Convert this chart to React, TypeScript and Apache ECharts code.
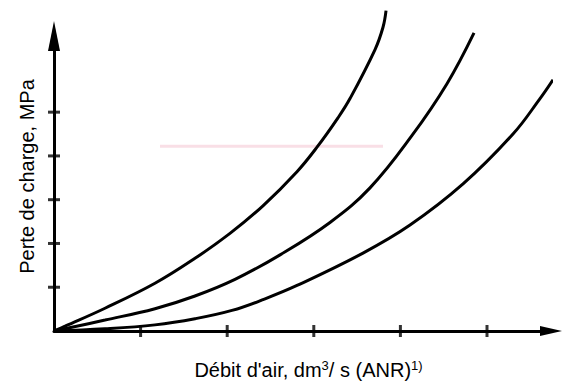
import React, { useEffect, useRef } from "react";
import * as echarts from "echarts";

// Axis tick positions (in tick units)
const xTickValues = [1, 2, 3, 4, 5];
const yTickValues = [1, 2, 3, 4, 5];

// Three pressure-drop curves: [airflow, pressure drop]
const curveA = [
  [0, 0], [0.127, 0.11], [0.589, 0.52], [1.166, 1.09], [1.628, 1.66], [2.032, 2.23],
  [2.413, 2.86], [2.806, 3.64], [3.037, 4.2], [3.279, 4.87], [3.418, 5.31],
  [3.707, 6.43], [3.799, 6.94], [3.834, 7.32],
];
const curveB = [
  [0, 0], [0.589, 0.25], [1.166, 0.51], [1.628, 0.8], [2.09, 1.18], [2.61, 1.74],
  [3.187, 2.48], [3.649, 3.27], [4.128, 4.45], [4.538, 5.65], [4.85, 6.81],
];
const curveC = [
  [0, 0], [0.589, 0.05], [1.166, 0.14], [1.628, 0.28], [2.055, 0.47], [2.43, 0.73],
  [2.806, 1.04], [3.568, 1.78], [4.111, 2.42], [4.723, 3.36], [5.3, 4.5], [5.612, 5.31],
  [5.762, 5.74],
];
// faint pink reference line
const pinkLine = [[1.224, 4.22], [3.799, 4.22]];

const xName = "{t|Débit d'air, dm}{s|3}{t|/ s (ANR)}{s|1)}";
const yName = "Perte de charge, MPa";

const FONT = "Liberation Sans";

export default function App() {
  const ref = useRef<HTMLDivElement>(null);
  useEffect(() => {
    if (!ref.current) return;
    const chart = echarts.init(ref.current, undefined, { renderer: "svg" });
    const curveSeries = (data: number[][]) => ({
      type: "line",
      data,
      smooth: 0.4,
      showSymbol: false,
      clip: false,
      lineStyle: { color: "#000", width: 3 },
      silent: true,
    });
    chart.setOption({
      animation: false,
      backgroundColor: "#fff",
      grid: { left: 54, right: 14, top: 36, bottom: 47 },
      xAxis: {
        type: "value",
        min: 0,
        max: 5.739,
        splitLine: { show: false },
        axisTick: { show: false },
        axisLabel: { show: false },
        axisLine: {
          lineStyle: { color: "#000", width: 3 },
          symbol: ["none", "triangle"],
          symbolSize: [10, 22],
        },
        name: xName,
        nameLocation: "middle",
        nameGap: 28,
        nameTextStyle: {
          padding: [0, 0, 0, 12],
          rich: {
            t: { fontFamily: FONT, fontSize: 20, color: "#000", lineHeight: 22 },
            s: { fontFamily: FONT, fontSize: 13, color: "#000", verticalAlign: "top", lineHeight: 22 },
          },
        },
      },
      yAxis: {
        type: "value",
        min: 0,
        max: 6.74,
        splitLine: { show: false },
        axisTick: { show: false },
        axisLabel: { show: false },
        axisLine: {
          lineStyle: { color: "#000", width: 3 },
          symbol: ["none", "triangle"],
          symbolSize: [12, 30],
        },
        name: yName,
        nameLocation: "middle",
        nameGap: 17,
        nameTextStyle: { fontFamily: FONT, fontSize: 20, color: "#000", padding: [0, 0, 0, 14] },
      },
      series: [
        {
          type: "line",
          data: pinkLine,
          showSymbol: false,
          lineStyle: { color: "#f9dfe6", width: 3 },
          silent: true,
        },
        curveSeries(curveA),
        curveSeries(curveB),
        curveSeries(curveC),
        {
          type: "scatter",
          data: xTickValues.map((v) => [v, 0]),
          symbol: "rect",
          symbolSize: [3, 12],
          itemStyle: { color: "#000" },
          silent: true,
        },
        {
          type: "scatter",
          data: yTickValues.map((v) => [0, v]),
          symbol: "rect",
          symbolSize: [12, 3],
          itemStyle: { color: "#000" },
          silent: true,
        },
      ],
    });
    return () => chart.dispose();
  }, []);
  return <div ref={ref} style={{ width: 565, height: 385, position: "fixed", left: 0, top: 0 }} />;
}
